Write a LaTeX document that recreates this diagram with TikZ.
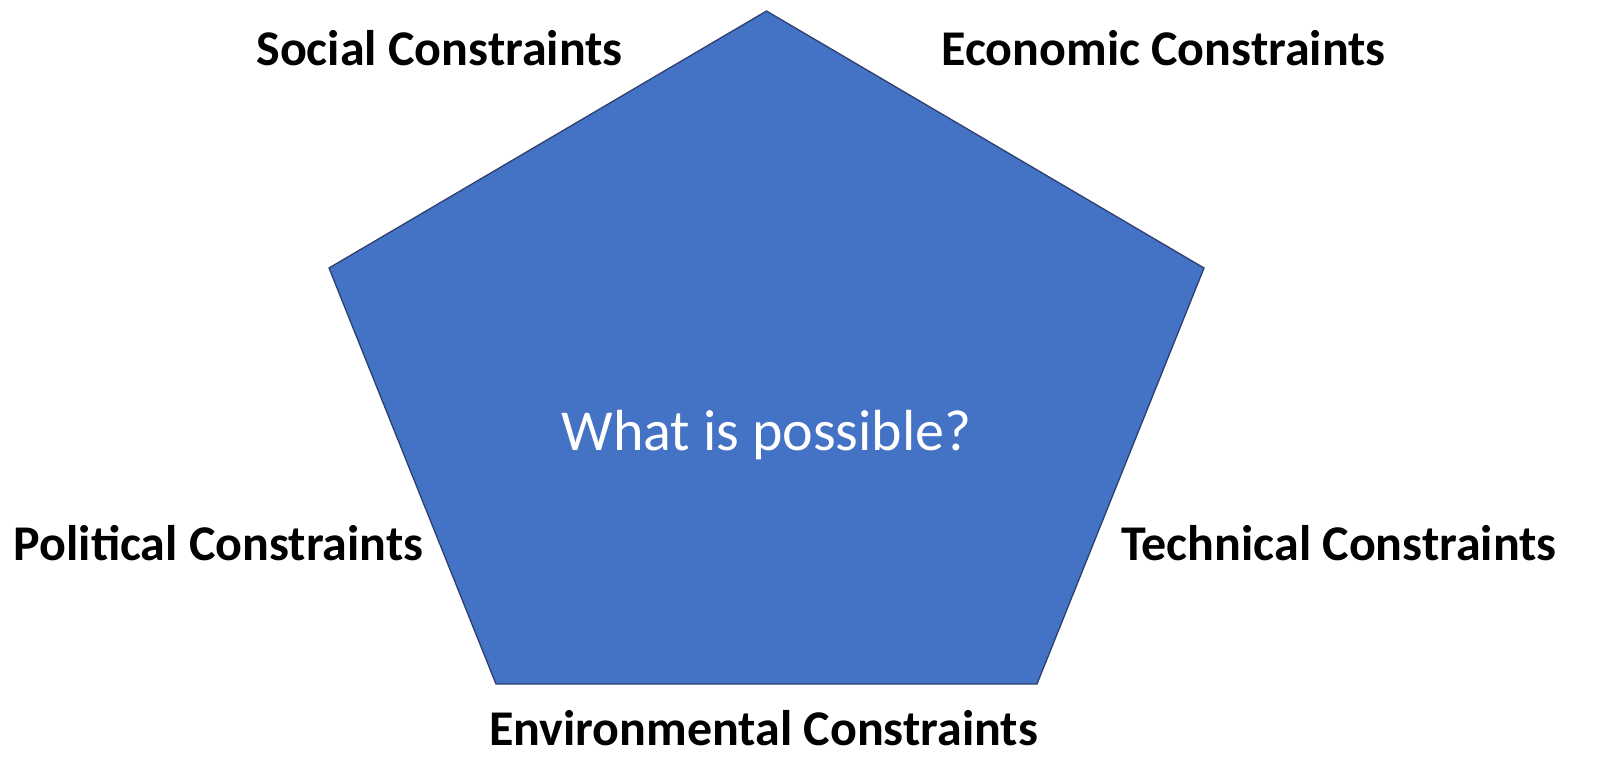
\documentclass[tikz,border=0pt]{standalone}
\usepackage{fontspec}
\setmainfont{Carlito}
\definecolor{pentfill}{HTML}{4472C4}
\definecolor{pentline}{HTML}{2F3F6F}
\begin{document}
\begin{tikzpicture}[x=1pt,y=-1pt,
  pent/.style={fill=pentfill,draw=pentline,line width=1.3pt,line join=miter},
  lbl/.style={anchor=base,inner sep=0pt,font=\fontsize{50}{54}\selectfont\bfseries},
  center/.style={anchor=base,inner sep=0pt,text=white,font=\fontsize{58}{62}\selectfont}]
\useasboundingbox (0,0) rectangle (1613,769);
\coordinate (t) at (766.5,11);
\coordinate (r) at (1204,268);
\coordinate (br) at (1037,684);
\coordinate (bl) at (496,684);
\coordinate (l) at (329,268);
\draw[pent] (t) -- (r) -- (br) -- (bl) -- (l) -- cycle;
\node[center] (what) at (766.5,450) {What is possible?};
\node[lbl] (soc) at (439.5,65) {Social Constraints};
\node[lbl] (eco) at (1163.5,65) {Economic Constraints};
\node[lbl] (pol) at (218.5,560) {Political Constraints};
\node[lbl] (tec) at (1339,560) {Technical Constraints};
\node[lbl] (env) at (763.5,745) {Environmental Constraints};
\end{tikzpicture}
\end{document}
